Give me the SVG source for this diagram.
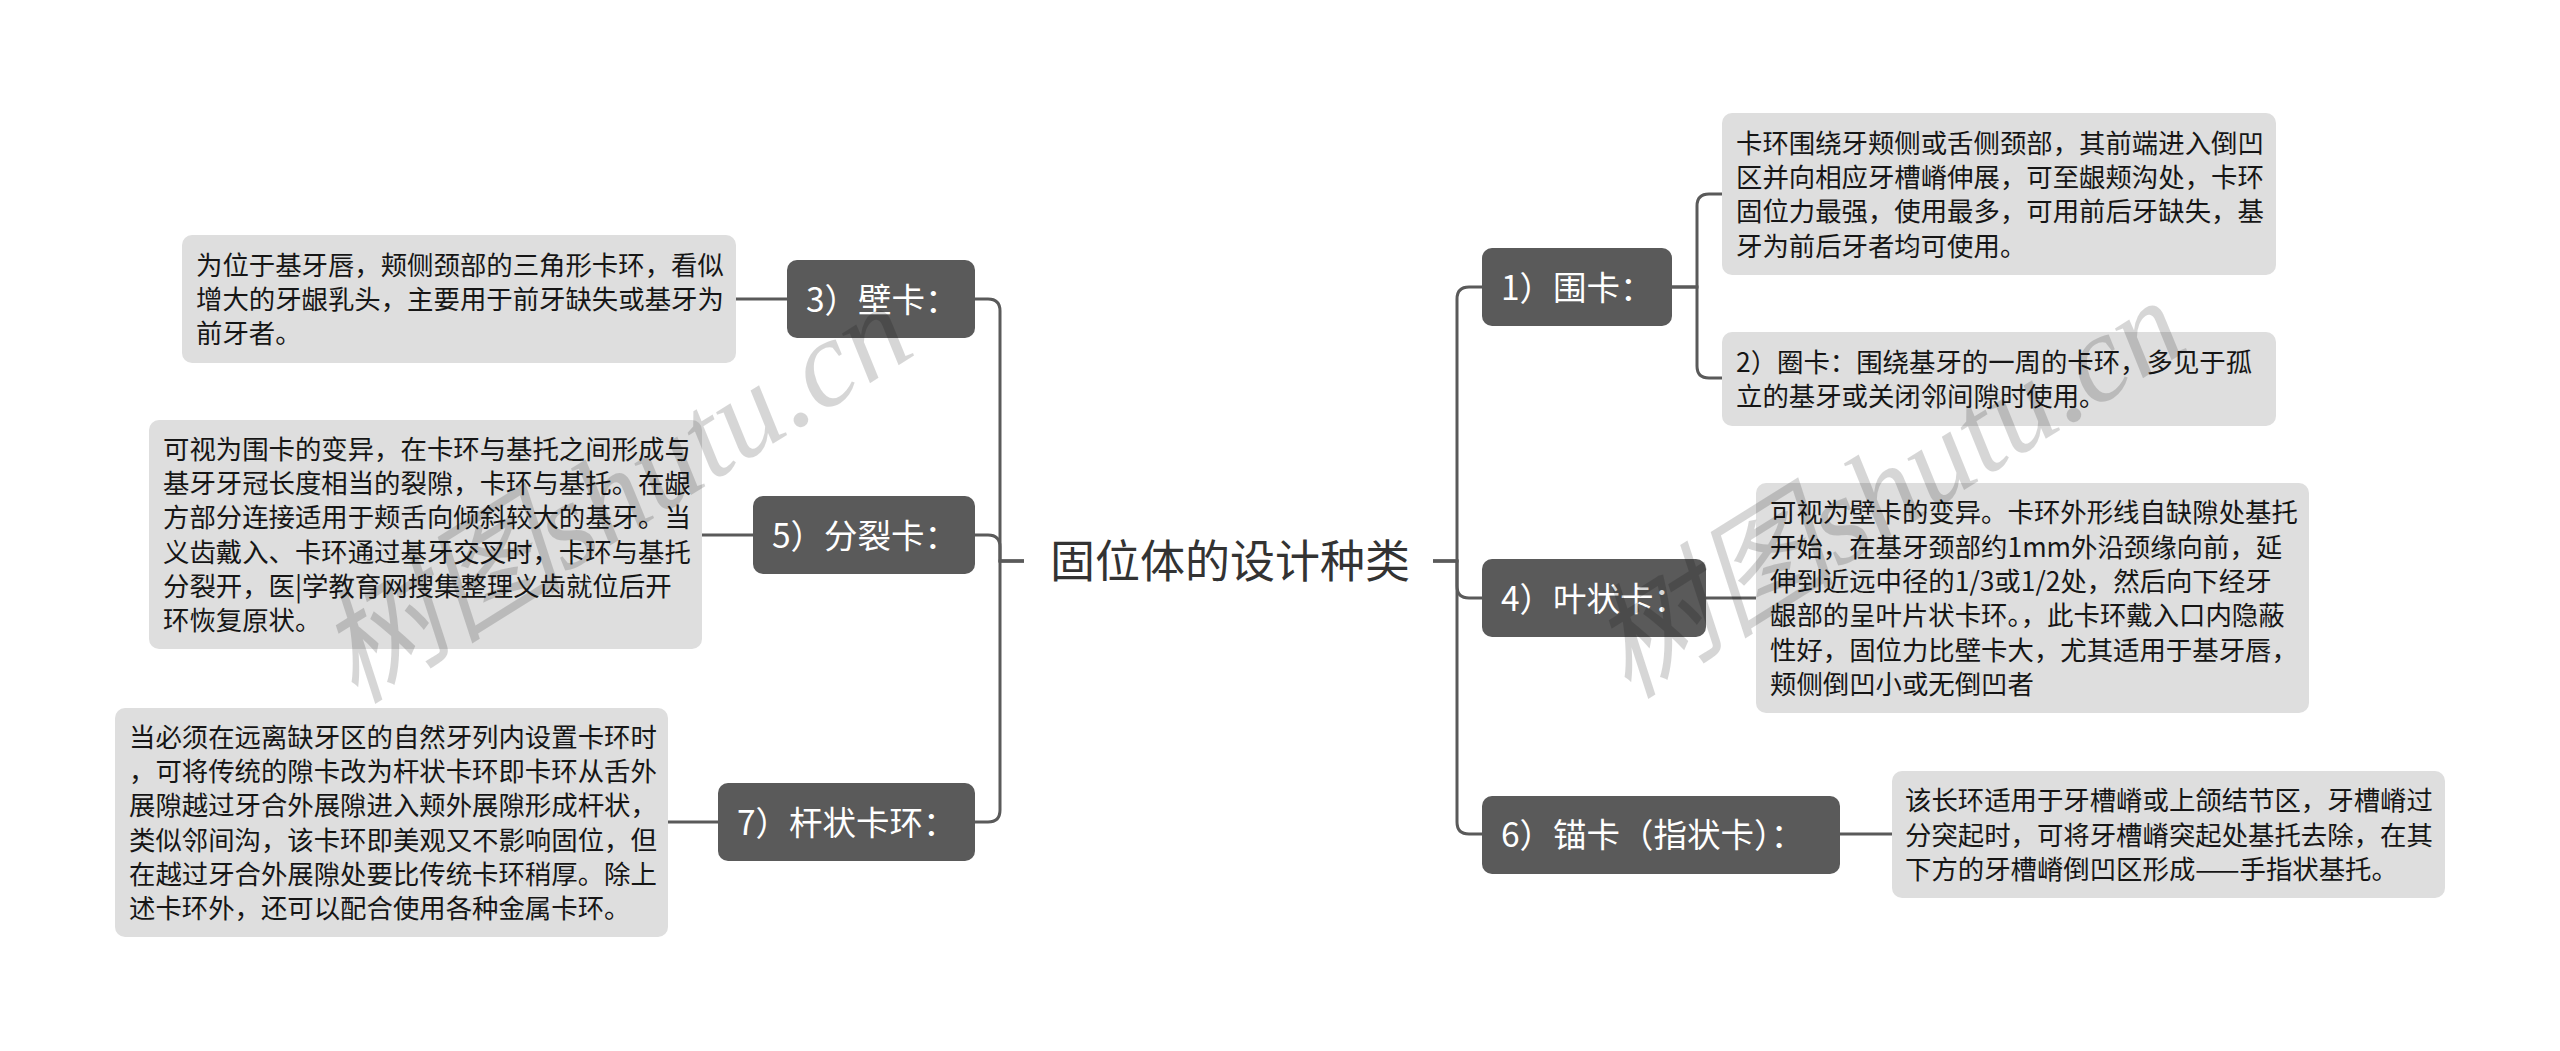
<svg xmlns="http://www.w3.org/2000/svg" width="2560" height="1051" viewBox="0 0 2560 1051">
<style>
.node rect{fill:#5a5a5a}
.node text{fill:#ffffff;font-family:"Noto Sans CJK SC","Noto Sans",sans-serif;font-size:33.5px}
.detail rect{fill:#dedede}
.detail text{fill:#161616;font-family:"Noto Sans CJK SC","Noto Sans",sans-serif;font-size:26.4px}
.conn path{fill:none;stroke:#5a5a5a;stroke-width:3}
.wm{fill:#000;fill-opacity:0.16;font-family:"Liberation Serif","Noto Sans CJK SC",serif;font-style:italic;font-size:124px}
</style>
<rect width="2560" height="1051" fill="#ffffff"/>
<g id="connectors" class="conn">
<path d="M1024 561 H1000 V311 Q1000 299 988 299 H975"/>
<path d="M1024 561 H1000 V547 Q1000 535 988 535 H975"/>
<path d="M1024 561 H1000 V810 Q1000 822 988 822 H975"/>
<path d="M1433 561 H1457 V299 Q1457 287 1469 287 H1482"/>
<path d="M1433 561 H1457 V586 Q1457 598 1469 598 H1482"/>
<path d="M1433 561 H1457 V822 Q1457 834 1469 834 H1482"/>
<path d="M736 299 H787"/>
<path d="M702 535 H753"/>
<path d="M668 822 H718"/>
<path d="M1672 287 H1697 V206 Q1697 194 1709 194 H1722"/>
<path d="M1672 287 H1697 V366 Q1697 378 1709 378 H1722"/>
<path d="M1706 598 H1756"/>
<path d="M1840 834 H1892"/>
</g>
<g id="root">
<text x="1050" y="578" font-family="Noto Sans CJK SC, sans-serif" font-size="45" fill="#333333">固位体的设计种类</text>
</g>
<g id="n3" class="node"><rect x="787" y="260" width="188" height="78" rx="10"/><text x="806" y="311.7">3）壁卡：</text></g>
<g id="n5" class="node"><rect x="753" y="496" width="222" height="78" rx="10"/><text x="772" y="547.7">5）分裂卡：</text></g>
<g id="n7" class="node"><rect x="718" y="783" width="257" height="78" rx="10"/><text x="737" y="834.7">7）杆状卡环：</text></g>
<g id="n1" class="node"><rect x="1482" y="248" width="190" height="78" rx="10"/><text x="1501" y="299.7">1）围卡：</text></g>
<g id="n4" class="node"><rect x="1482" y="559" width="224" height="78" rx="10"/><text x="1501" y="610.7">4）叶状卡：</text></g>
<g id="n6" class="node"><rect x="1482" y="796" width="358" height="78" rx="10"/><text x="1501" y="847.2">6）锚卡（指状卡）：</text></g>
<g id="d3" class="detail"><rect x="182" y="235" width="554" height="128" rx="10"/><text x="196" y="274.7"><tspan x="196">为位于基牙唇，颊侧颈部的三角形卡环，看似</tspan><tspan x="196" dy="34.3">增大的牙龈乳头，主要用于前牙缺失或基牙为</tspan><tspan x="196" dy="34.3">前牙者。</tspan></text></g>
<g id="d5" class="detail"><rect x="149" y="420" width="553" height="229" rx="10"/><text x="163" y="458.8"><tspan x="163">可视为围卡的变异，在卡环与基托之间形成与</tspan><tspan x="163" dy="34.3">基牙牙冠长度相当的裂隙，卡环与基托。在龈</tspan><tspan x="163" dy="34.3">方部分连接适用于颊舌向倾斜较大的基牙。当</tspan><tspan x="163" dy="34.3">义齿戴入、卡环通过基牙交叉时，卡环与基托</tspan><tspan x="163" dy="34.3">分裂开，医|学教育网搜集整理义齿就位后开</tspan><tspan x="163" dy="34.3">环恢复原状。</tspan></text></g>
<g id="d7" class="detail"><rect x="115" y="708" width="553" height="229" rx="10"/><text x="129" y="746.8"><tspan x="129">当必须在远离缺牙区的自然牙列内设置卡环时</tspan><tspan x="129" dy="34.3">，可将传统的隙卡改为杆状卡环即卡环从舌外</tspan><tspan x="129" dy="34.3">展隙越过牙合外展隙进入颊外展隙形成杆状，</tspan><tspan x="129" dy="34.3">类似邻间沟，该卡环即美观又不影响固位，但</tspan><tspan x="129" dy="34.3">在越过牙合外展隙处要比传统卡环稍厚。除上</tspan><tspan x="129" dy="34.3">述卡环外，还可以配合使用各种金属卡环。</tspan></text></g>
<g id="d1a" class="detail"><rect x="1722" y="113" width="554" height="162" rx="10"/><text x="1736" y="152.6"><tspan x="1736">卡环围绕牙颊侧或舌侧颈部，其前端进入倒凹</tspan><tspan x="1736" dy="34.3">区并向相应牙槽嵴伸展，可至龈颊沟处，卡环</tspan><tspan x="1736" dy="34.3">固位力最强，使用最多，可用前后牙缺失，基</tspan><tspan x="1736" dy="34.3">牙为前后牙者均可使用。</tspan></text></g>
<g id="d1b" class="detail"><rect x="1722" y="332" width="554" height="94" rx="10"/><text x="1736" y="371.9"><tspan x="1736">2）圈卡：围绕基牙的一周的卡环，多见于孤</tspan><tspan x="1736" dy="34.3">立的基牙或关闭邻间隙时使用。</tspan></text></g>
<g id="d4" class="detail"><rect x="1756" y="483" width="553" height="230" rx="10"/><text x="1770" y="522.3"><tspan x="1770">可视为壁卡的变异。卡环外形线自缺隙处基托</tspan><tspan x="1770" dy="34.3">开始，在基牙颈部约1mm外沿颈缘向前，延</tspan><tspan x="1770" dy="34.3">伸到近远中径的1/3或1/2处，然后向下经牙</tspan><tspan x="1770" dy="34.3">龈部的呈叶片状卡环。，此卡环戴入口内隐蔽</tspan><tspan x="1770" dy="34.3">性好，固位力比壁卡大，尤其适用于基牙唇，</tspan><tspan x="1770" dy="34.3">颊侧倒凹小或无倒凹者</tspan></text></g>
<g id="d6" class="detail"><rect x="1892" y="771" width="553" height="127" rx="10"/><text x="1905" y="810.2"><tspan x="1905">该长环适用于牙槽嵴或上颌结节区，牙槽嵴过</tspan><tspan x="1905" dy="34.3">分突起时，可将牙槽嵴突起处基托去除，在其</tspan><tspan x="1905" dy="34.3">下方的牙槽嵴倒凹区形成——手指状基托。</tspan></text></g>
<g id="watermarks">
<text class="wm" x="355" y="705" transform="rotate(-32 355 705)">树图shutu.cn</text>
<text class="wm" x="1628" y="700" transform="rotate(-32 1628 700)">树图shutu.cn</text>
</g>
</svg>
